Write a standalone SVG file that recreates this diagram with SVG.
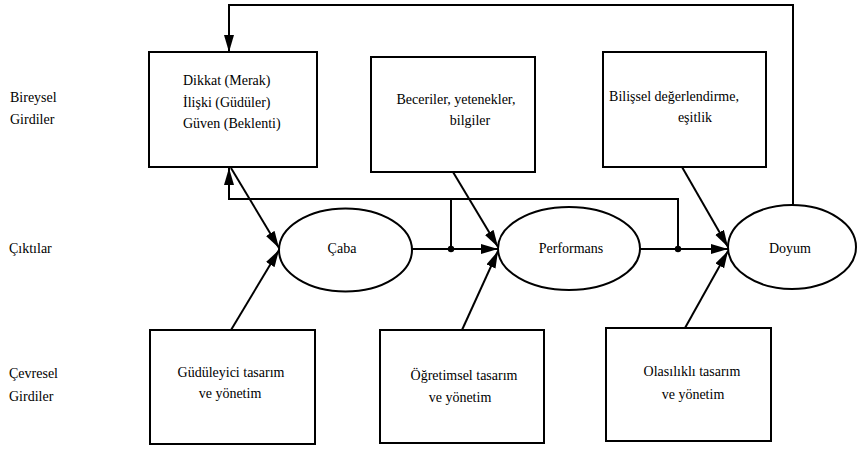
<svg xmlns="http://www.w3.org/2000/svg" width="857" height="449" viewBox="0 0 857 449" font-family="'Liberation Serif', 'Times New Roman', 'DejaVu Serif', serif">
<style>
text{font-family:'Liberation Serif','Times New Roman','DejaVu Serif',serif;font-size:14px;fill:#000}
.box{fill:#fff;stroke:#000;stroke-width:2}
.ell{fill:#fff;stroke:#000;stroke-width:2}
.c{text-anchor:middle}
.ln{fill:none;stroke:#000;stroke-width:2}
.ar{marker-end:url(#ah)}
</style>
<defs>
<marker id="ah" markerUnits="userSpaceOnUse" markerWidth="18" markerHeight="11" refX="17" refY="5" orient="auto">
<path d="M0,0 L17,5 L0,10 z" fill="#000"/>
</marker>
</defs>
<rect width="857" height="449" fill="#fff"/>
<g id="labels">
<text x="10" y="102">Bireysel</text>
<text x="10" y="124">Girdiler</text>
<text x="9" y="253">Çıktılar</text>
<text x="9" y="378">Çevresel</text>
<text x="9" y="401">Girdiler</text>
</g>
<g id="connectors">
<path class="ln ar" d="M793,206 V5 H229 V52"/>
<path class="ln ar" d="M678,249 V199 H229 V168"/>
<path class="ln" d="M451,249 V199"/>
<path class="ln ar" d="M231,168 L279,248"/>
<path class="ln ar" d="M231,330 L279,250"/>
<path class="ln ar" d="M412,249 L498,249"/>
<path class="ln ar" d="M453,172 L498,247"/>
<path class="ln ar" d="M462,330 L498,251"/>
<path class="ln ar" d="M640,249 L728,249"/>
<path class="ln ar" d="M682,167 L728,247"/>
<path class="ln ar" d="M685,328 L728,251"/>
<circle cx="451" cy="249" r="3.2" fill="#000"/>
<circle cx="678" cy="249" r="3.2" fill="#000"/>
</g>
<g id="n-bireysel1">
<rect class="box" x="149" y="52" width="168" height="115"/>
<text x="183" y="85">Dikkat (Merak)</text>
<text x="183" y="107">İlişki (Güdüler)</text>
<text x="183" y="128">Güven (Beklenti)</text>
</g>
<g id="n-bireysel2">
<rect class="box" x="371" y="57" width="164" height="115"/>
<text class="c" x="456" y="104">Beceriler, yetenekler,</text>
<text class="c" x="470" y="125">bilgiler</text>
</g>
<g id="n-bireysel3">
<rect class="box" x="603" y="52" width="163" height="115"/>
<text class="c" x="674" y="101">Bilişsel değerlendirme,</text>
<text class="c" x="695" y="122">eşitlik</text>
</g>
<g id="n-caba">
<ellipse class="ell" cx="345.5" cy="250" rx="66.5" ry="41.5"/>
<text class="c" x="342" y="253">Çaba</text>
</g>
<g id="n-performans">
<ellipse class="ell" cx="569" cy="248.5" rx="71" ry="41.5"/>
<text class="c" x="571" y="253">Performans</text>
</g>
<g id="n-doyum">
<ellipse class="ell" cx="792" cy="247" rx="64" ry="42"/>
<text class="c" x="790" y="253">Doyum</text>
</g>
<g id="n-cevresel1">
<rect class="box" x="150" y="330" width="165" height="114"/>
<text class="c" x="231" y="377">Güdüleyici tasarım</text>
<text class="c" x="230" y="398">ve yönetim</text>
</g>
<g id="n-cevresel2">
<rect class="box" x="380" y="330" width="164" height="113"/>
<text class="c" x="464" y="380">Öğretimsel tasarım</text>
<text class="c" x="460" y="402">ve yönetim</text>
</g>
<g id="n-cevresel3">
<rect class="box" x="606" y="328" width="165" height="113"/>
<text class="c" x="692" y="376">Olasılıklı tasarım</text>
<text class="c" x="693" y="399">ve yönetim</text>
</g>
</svg>
